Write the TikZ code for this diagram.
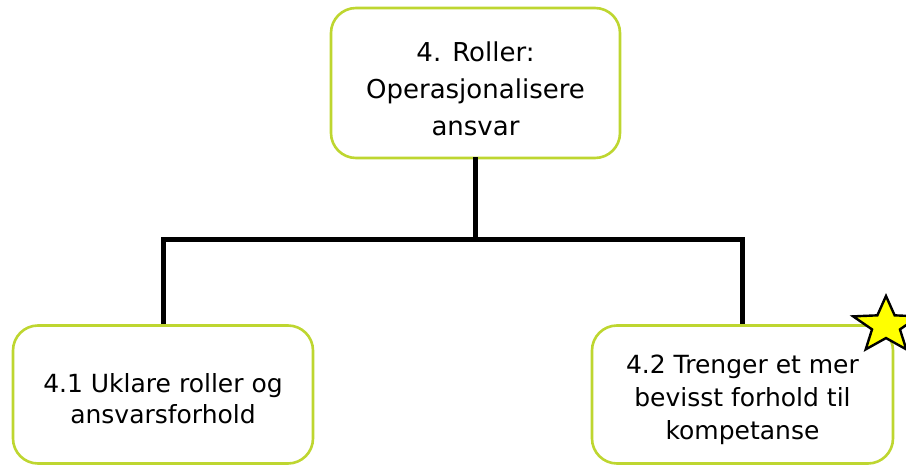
\documentclass[tikz,border=0pt]{standalone}
\usepackage{fontspec}
\setmainfont{DejaVu Sans}
\usetikzlibrary{shapes.geometric}
\definecolor{limeline}{RGB}{190,214,48}
\definecolor{staryellow}{RGB}{255,255,0}
% \lift{h}: extra room above the first line, which lowers the text block by h/2
\newcommand{\lift}[1]{\rule{0pt}{#1}}
\tikzset{
  topicbox/.style={draw=limeline, line width=2.6pt, rounded corners=25pt, fill=white,
    align=center, inner sep=0pt, font=\fontsize{26}{37}\selectfont},
  link/.style={line width=5pt, black, line cap=rect},
  mark star/.style={star, star points=5, star point ratio=2.35, minimum size=59pt,
    draw=black, line width=2.4pt, fill=staryellow, inner sep=0pt}
}
\begin{document}
\begin{tikzpicture}[x=1pt,y=-1pt]
  \useasboundingbox (0,0) rectangle (906,465);
  % boxes
  \node[topicbox, minimum width=289pt, minimum height=150pt] (top) at (475.5,83)
    {\lift{32pt}4. Roller:\\Operasjonalisere\\ansvar};
  \node[topicbox, minimum width=300pt, minimum height=138pt,
        font=\fontsize{25}{31}\selectfont] (left) at (163,394.5)
    {\lift{28pt}4.1 Uklare roller og\\ansvarsforhold};
  \node[topicbox, minimum width=301pt, minimum height=138pt,
        font=\fontsize{25}{33}\selectfont] (right) at (742.5,394.5)
    {\lift{30pt}4.2 Trenger et mer\\bevisst forhold til\\kompetanse};
  % connectors
  \coordinate (j) at (475.5,240);
  \draw[link] (top.south) -- (j);
  \draw[link, line cap=butt] (left.north) |- (j) -| (right.north);
  % star, a little wider than tall
  \begin{scope}[shift={(886,325.5)}, xscale=1.17, transform shape]
    \node[mark star] (star) at (0,0) {};
  \end{scope}
\end{tikzpicture}
\end{document}
